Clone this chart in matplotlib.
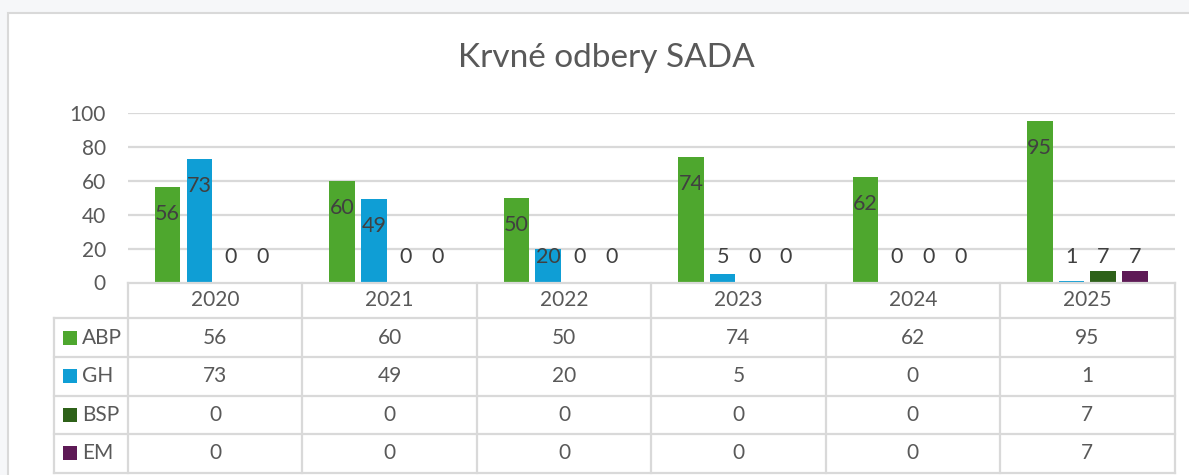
import matplotlib
matplotlib.use("Agg")
import matplotlib.pyplot as plt
from matplotlib.patches import Rectangle
from matplotlib.transforms import blended_transform_factory
import numpy as np

plt.rcParams['font.family'] = ['Lato', 'DejaVu Sans']

title = "Krvné odbery SADA"
years = ["2020", "2021", "2022", "2023", "2024", "2025"]
series_names = ["ABP", "GH", "BSP", "EM"]
abp = [56, 60, 50, 74, 62, 95]
gh = [73, 49, 20, 5, 0, 1]
bsp = [0, 0, 0, 0, 0, 7]
em = [0, 0, 0, 0, 0, 7]
colors = ["#4ea72e", "#0f9ed5", "#2e6119", "#5e1a56"]
series = [abp, gh, bsp, em]

W, H = 1189, 475
fig = plt.figure(figsize=(W / 100, H / 100), dpi=100)
fig.patch.set_facecolor("#f6f7f9")

def fx(px):
    return px / W

def fy(py):
    return 1 - py / H

FS = 15
FS_LAB = 15.5
TXT = "#595959"

# chart frame
frame = Rectangle((fx(8), fy(H + 20)), fx(1300) - fx(8), fy(13) - fy(H + 20),
                  transform=fig.transFigure, facecolor="white",
                  edgecolor="#d9d9d9", linewidth=1.5, zorder=-5)
fig.add_artist(frame)

x_left, x_right = 128, 1174.5
y_top, y_zero = 112.7, 282.5
ax = fig.add_axes([fx(x_left), fy(y_zero), fx(x_right) - fx(x_left), fy(y_top) - fy(y_zero)])
ax.set_zorder(1)
ax.set_facecolor("none")
ax.set_xlim(-0.5, len(years) - 0.5)
ax.set_ylim(0, 100)
ax.set_yticks([0, 20, 40, 60, 80, 100])
for s in ax.spines.values():
    s.set_visible(False)
ax.set_xticks([])
ax.tick_params(axis="y", length=0, pad=16, labelsize=FS, labelcolor=TXT)
for v in [20, 40, 60, 80, 100]:
    ax.axhline(v, color="#d9d9d9", lw=1.6, zorder=0)

x = np.arange(len(years))
step = 0.1816
bw = 0.146
for j, (vals, c) in enumerate(zip(series, colors)):
    xs = x + (j - 1.5) * step
    ax.bar(xs, vals, width=bw, color=c, zorder=2)
    for xi, v in zip(xs, vals):
        ly = max(v - 15.9, 15.3)
        ax.text(xi, ly, str(v), ha="center", va="center", fontsize=FS_LAB,
                color="#404040", zorder=3)

fig.text(fx(606), fy(58), title, ha="center", va="center", fontsize=24, color=TXT)

# data table
lc = "#d9d9d9"
lw = 1.6
trans = blended_transform_factory(ax.transData, fig.transFigure)
rows_px = [282.5, 318.3, 357.0, 395.7, 434.3, 472.5]
leg_left = 54.3

def hline(y, x0, x1):
    fig.add_artist(plt.Line2D([fx(x0), fx(x1)], [fy(y), fy(y)], transform=fig.transFigure,
                              color=lc, lw=lw, zorder=2))

def vline(xp, y0, y1):
    fig.add_artist(plt.Line2D([fx(xp), fx(xp)], [fy(y0), fy(y1)], transform=fig.transFigure,
                              color=lc, lw=lw, zorder=2))

hline(rows_px[0], x_left, x_right)
for y in rows_px[1:]:
    hline(y, leg_left, x_right)
vline(leg_left, rows_px[1], rows_px[-1])
for k in range(len(years) + 1):
    xb = -0.5 + k
    fig.add_artist(plt.Line2D([xb, xb], [fy(rows_px[0]), fy(rows_px[-1])], transform=trans,
                              color=lc, lw=lw, zorder=2))

for i, yr in enumerate(years):
    fig.add_artist(plt.Text(i, fy((rows_px[0] + rows_px[1]) / 2), yr, transform=trans,
                            ha="center", va="center", fontsize=FS, color=TXT, zorder=3))

for r, (name, vals, c) in enumerate(zip(series_names, series, colors)):
    yc = (rows_px[r + 1] + rows_px[r + 2]) / 2
    fig.add_artist(Rectangle((fx(62.7), fy(yc + 7)), fx(14), 14 / H,
                             transform=fig.transFigure, facecolor=c, edgecolor="none",
                             zorder=3))
    fig.text(fx(82), fy(yc), name, ha="left", va="center", fontsize=FS, color=TXT)
    for i, v in enumerate(vals):
        fig.add_artist(plt.Text(i, fy(yc), str(v), transform=trans, ha="center",
                                va="center", fontsize=FS, color=TXT, zorder=3))

fig.savefig("out.png", dpi=100, facecolor=fig.get_facecolor())
